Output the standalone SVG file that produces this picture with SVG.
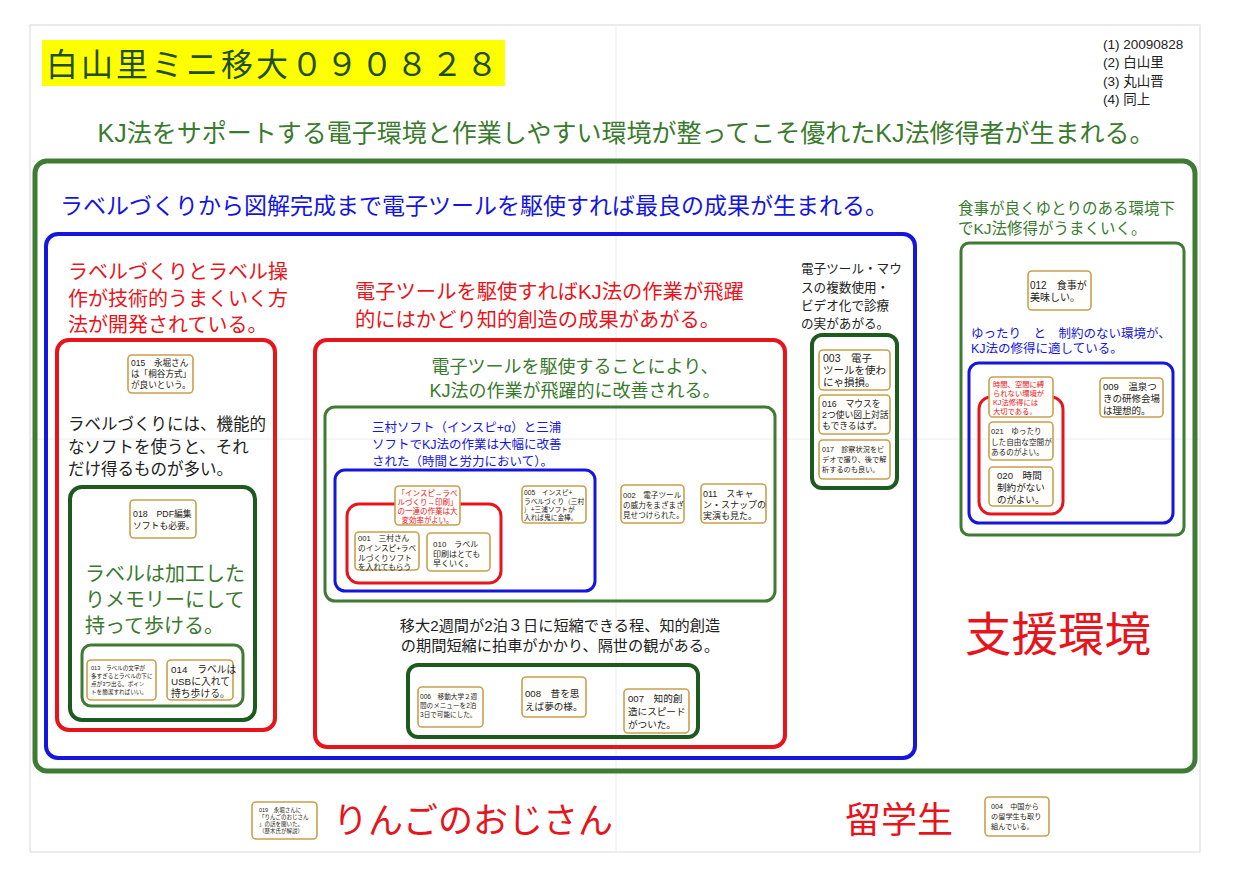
<svg xmlns="http://www.w3.org/2000/svg" width="1233" height="873" viewBox="0 0 1233 873">
<style>
text{font-family:"Liberation Sans","Noto Sans CJK JP",sans-serif;}
.card{fill:#fffefa;stroke:#c8a050;stroke-width:1.6;}
.ct{fill:#222;}
.red{fill:#e8141c;}
.blue{fill:#1515e0;}
.green{fill:#3a7a2e;}
.box{fill:none;}
.bR{stroke:#e8141c;}
.bB{stroke:#1515e0;}
.bG{stroke:#3e7b33;}
.bD{stroke:#1d5a1d;}
</style>
<rect width="1233" height="873" fill="#fff"/>
<g id="page">
<rect x="30" y="25" width="1170" height="827" fill="none" stroke="#d8d8d8" stroke-width="1"/>
<line x1="616" y1="25" x2="616" y2="852" stroke="#ececec" stroke-width="1"/>
<line x1="30" y1="439" x2="1200" y2="439" stroke="#ececec" stroke-width="1"/>
</g>
<g id="title">
<rect x="42" y="40" width="463" height="46" fill="#ffff00"/>
<text x="46" y="76" font-size="32" fill="#1f4f1a" textLength="452" lengthAdjust="spacing">白山里ミニ移大０９０８２８</text>
</g>
<g id="meta" font-size="13.5" class="ct">
<text x="1103" y="49">(1) 20090828</text>
<text x="1103" y="67">(2) 白山里</text>
<text x="1103" y="86">(3) 丸山晋</text>
<text x="1103" y="104">(4) 同上</text>
</g>
<g id="headline"><text x="626" y="142" font-size="25" class="green" text-anchor="middle">KJ法をサポートする電子環境と作業しやすい環境が整ってこそ優れたKJ法修得者が生まれる。</text></g>

<g id="frames">
<rect class="box bG" x="35" y="161" width="1160" height="610" rx="12" stroke-width="5"/>
<rect class="box bB" x="46" y="234" width="869" height="524" rx="12" stroke-width="4"/>
<rect class="box bR" x="57" y="340" width="218" height="390" rx="12" stroke-width="4"/>
<rect class="box bD" x="70" y="487" width="185" height="233" rx="12" stroke-width="4"/>
<rect class="box bG" x="82" y="645" width="161" height="61" rx="9" stroke-width="3"/>
<rect class="box bR" x="315" y="340" width="470" height="407" rx="12" stroke-width="4"/>
<rect class="box bG" x="325" y="407" width="450" height="194" rx="10" stroke-width="3"/>
<rect class="box bB" x="335" y="470" width="260" height="121" rx="10" stroke-width="3"/>
<rect class="box bR" x="347" y="504" width="154" height="79" rx="12" stroke-width="3"/>
<rect class="box bD" x="408" y="665" width="290" height="72" rx="10" stroke-width="4"/>
<rect class="box bD" x="812" y="335" width="85" height="153" rx="10" stroke-width="4"/>
<rect class="box bG" x="961" y="243" width="223" height="292" rx="8" stroke-width="3"/>
<rect class="box bB" x="969" y="363" width="204" height="160" rx="10" stroke-width="3"/>
<rect class="box bR" x="979" y="397" width="84" height="117" rx="12" stroke-width="3"/>
</g>

<g id="labels">
<text x="60" y="214" font-size="23" class="blue">ラベルづくりから図解完成まで電子ツールを駆使すれば最良の成果が生まれる。</text>
<text font-size="20" class="red"><tspan x="68" y="279">ラベルづくりとラベル操</tspan><tspan x="68" y="306">作が技術的うまくいく方</tspan><tspan x="68" y="332">法が開発されている。</tspan></text>
<text font-size="16.5" class="ct"><tspan x="68" y="430">ラベルづくりには、機能的</tspan><tspan x="68" y="453">なソフトを使うと、それ</tspan><tspan x="68" y="475">だけ得るものが多い。</tspan></text>
<text font-size="20" class="green"><tspan x="85" y="581">ラベルは加工した</tspan><tspan x="85" y="607">りメモリーにして</tspan><tspan x="85" y="633">持って歩ける。</tspan></text>
<text font-size="20.3" class="red"><tspan x="355" y="299">電子ツールを駆使すればKJ法の作業が飛躍</tspan><tspan x="355" y="327">的にはかどり知的創造の成果があがる。</tspan></text>
<text font-size="18" class="green" text-anchor="middle"><tspan x="575" y="373">電子ツールを駆使することにより、</tspan><tspan x="575" y="397">KJ法の作業が飛躍的に改善される。</tspan></text>
<text font-size="12.5" class="blue"><tspan x="372" y="432">三村ソフト（インスピ+α）と三浦</tspan><tspan x="372" y="449">ソフトでKJ法の作業は大幅に改善</tspan><tspan x="372" y="466">された（時間と労力において）。</tspan></text>
<text font-size="15.2" class="ct" text-anchor="middle"><tspan x="560" y="631">移大2週間が2泊３日に短縮できる程、知的創造</tspan><tspan x="560" y="651">の期間短縮に拍車がかかり、隔世の観がある。</tspan></text>
<text font-size="12.6" class="ct"><tspan x="801" y="273">電子ツール・マウ</tspan><tspan x="801" y="292">スの複数使用・</tspan><tspan x="801" y="310">ビデオ化で診療</tspan><tspan x="801" y="328">の実があがる。</tspan></text>
<text font-size="15.5" class="green"><tspan x="958" y="214">食事が良くゆとりのある環境下</tspan><tspan x="958" y="234">でKJ法修得がうまくいく。</tspan></text>
<text font-size="12.5" class="blue"><tspan x="971" y="338">ゆったり　と　制約のない環境が、</tspan><tspan x="971" y="353">KJ法の修得に適している。</tspan></text>
<text x="965" y="651" font-size="46.5" class="red">支援環境</text>
<text x="333" y="833" font-size="35" class="red">りんごのおじさん</text>
<text x="845" y="833" font-size="36" class="red">留学生</text>
</g>

<g id="connectors"></g>

<g id="n015"><rect class="card" x="128" y="355" width="65" height="38" rx="4"/><text class="ct" font-size="8.6"><tspan x="131" y="366">015　永堀さん</tspan><tspan x="131" y="377">は「桐谷方式」</tspan><tspan x="131" y="388">が良いという。</tspan></text></g>
<g id="n018"><rect class="card" x="130" y="500" width="66" height="38" rx="4"/><text class="ct" font-size="8.8"><tspan x="133" y="517">018　PDF編集</tspan><tspan x="133" y="529">ソフトも必要。</tspan></text></g>
<g id="n013"><rect class="card" x="87" y="660" width="69" height="40" rx="4"/><text class="ct" font-size="5.6"><tspan x="91" y="670">013　ラベルの文字が</tspan><tspan x="91" y="678">多すぎるとラベルの下に</tspan><tspan x="91" y="686">点が3つ出る。ポイン</tspan><tspan x="91" y="694">トを簡潔すればいい。</tspan></text></g>
<g id="n014"><rect class="card" x="167" y="660" width="66" height="40" rx="4"/><text class="ct" font-size="9.8"><tspan x="171" y="673">014　ラベルは</tspan><tspan x="171" y="685">USBに入れて</tspan><tspan x="171" y="697">持ち歩ける。</tspan></text></g>

<g id="nR1"><rect class="card" x="395" y="486" width="65" height="39" rx="4"/><text class="red" font-size="7.5" text-anchor="middle"><tspan x="427.5" y="496">「インスピ→ラベ</tspan><tspan x="427.5" y="505">ルづくり→印刷」</tspan><tspan x="427.5" y="514">の一連の作業は大</tspan><tspan x="427.5" y="523">変効率がよい。</tspan></text></g>
<g id="n001"><rect class="card" x="355" y="532" width="64" height="38" rx="4"/><text class="ct" font-size="7.7"><tspan x="358" y="541">001　三村さん</tspan><tspan x="358" y="551">のインスピ+ラベ</tspan><tspan x="358" y="561">ルづくりソフト</tspan><tspan x="358" y="570">を入れてもらう</tspan></text></g>
<g id="n010"><rect class="card" x="427" y="533" width="63" height="38" rx="4"/><text class="ct" font-size="8"><tspan x="433" y="547">010　ラベル</tspan><tspan x="433" y="557">印刷はとても</tspan><tspan x="433" y="566">早くいく。</tspan></text></g>
<g id="n005"><rect class="card" x="522" y="486" width="64" height="37" rx="4"/><text class="ct" font-size="6.7"><tspan x="524" y="495">005　インスピ+</tspan><tspan x="524" y="504">ラベルづくり（三村</tspan><tspan x="524" y="512">）+三浦ソフトが</tspan><tspan x="524" y="520">入れば鬼に金棒。</tspan></text></g>
<g id="n002"><rect class="card" x="621" y="485" width="63" height="38" rx="4"/><text class="ct" font-size="7.6"><tspan x="623" y="498">002　電子ツール</tspan><tspan x="623" y="508">の威力をまざまざ</tspan><tspan x="623" y="518">見せつけられた。</tspan></text></g>
<g id="n011"><rect class="card" x="701" y="484" width="65" height="39" rx="4"/><text class="ct" font-size="9"><tspan x="703" y="497">011　スキャ</tspan><tspan x="703" y="508">ン・スナップの</tspan><tspan x="703" y="519">実演も見た。</tspan></text></g>

<g id="n006"><rect class="card" x="418" y="687" width="65" height="40" rx="4"/><text class="ct" font-size="6.6"><tspan x="420" y="699">006　移動大学２週</tspan><tspan x="420" y="708">間のメニューを2泊</tspan><tspan x="420" y="717">3日で可能にした。</tspan></text></g>
<g id="n008"><rect class="card" x="522" y="677" width="64" height="40" rx="4"/><text class="ct" font-size="9.6"><tspan x="525" y="697">008　昔を思</tspan><tspan x="525" y="710">えば夢の様。</tspan></text></g>
<g id="n007"><rect class="card" x="624" y="689" width="65" height="44" rx="4"/><text class="ct" font-size="9.6"><tspan x="628" y="702">007　知的創</tspan><tspan x="628" y="715">造にスピード</tspan><tspan x="628" y="728">がついた。</tspan></text></g>

<g id="n003"><rect class="card" x="819" y="350" width="71" height="40" rx="4"/><text class="ct" font-size="10.5"><tspan x="823" y="362">003　電子</tspan><tspan x="823" y="374">ツールを使わ</tspan><tspan x="823" y="386">にゃ損損。</tspan></text></g>
<g id="n016"><rect class="card" x="819" y="395" width="71" height="39" rx="4"/><text class="ct" font-size="8.8"><tspan x="822" y="407">016　マウスを</tspan><tspan x="822" y="418">2つ使い図上対話</tspan><tspan x="822" y="429">もできるはず。</tspan></text></g>
<g id="n017"><rect class="card" x="819" y="440" width="71" height="39" rx="4"/><text class="ct" font-size="7.2"><tspan x="822" y="452">017　診察状況をビ</tspan><tspan x="822" y="462">デオで撮り、後で解</tspan><tspan x="822" y="472">析するのも良い。</tspan></text></g>

<g id="n012"><rect class="card" x="1028" y="271" width="63" height="39" rx="4"/><text class="ct" font-size="10"><tspan x="1030" y="289">012　食事が</tspan><tspan x="1030" y="301">美味しい。</tspan></text></g>
<g id="nR2"><rect class="card" x="989" y="377" width="64" height="40" rx="4"/><text class="red" font-size="7.3"><tspan x="993" y="387">時間、空間に縛</tspan><tspan x="993" y="396">られない環境が</tspan><tspan x="993" y="405">KJ法修得には</tspan><tspan x="993" y="414">大切である。</tspan></text></g>
<g id="n021"><rect class="card" x="989" y="422" width="64" height="38" rx="4"/><text class="ct" font-size="7.6"><tspan x="991" y="434">021　ゆったり</tspan><tspan x="991" y="445">した自由な空間が</tspan><tspan x="991" y="455">あるのがよい。</tspan></text></g>
<g id="n020"><rect class="card" x="989" y="467" width="64" height="39" rx="4"/><text class="ct" font-size="9.6"><tspan x="997" y="479">020　時間</tspan><tspan x="997" y="491">制約がない</tspan><tspan x="997" y="503">のがよい。</tspan></text></g>
<g id="n009"><rect class="card" x="1100" y="378" width="63" height="39" rx="4"/><text class="ct" font-size="9.5"><tspan x="1103" y="390">009　温泉つ</tspan><tspan x="1103" y="402">きの研修会場</tspan><tspan x="1103" y="414">は理想的。</tspan></text></g>

<g id="n019"><rect class="card" x="252" y="802" width="65" height="37" rx="4"/><text class="ct" font-size="5.5"><tspan x="259" y="812">019　永堀さんに</tspan><tspan x="259" y="819">「りんごのおじさん</tspan><tspan x="259" y="826">」の話を聞いた。</tspan><tspan x="259" y="833">（歴木氏が解説）</tspan></text></g>
<g id="n004"><rect class="card" x="985" y="797" width="64" height="39" rx="4"/><text class="ct" font-size="7.2"><tspan x="991" y="809">004　中国から</tspan><tspan x="991" y="819">の留学生も取り</tspan><tspan x="991" y="829">組んでいる。</tspan></text></g>
</svg>
